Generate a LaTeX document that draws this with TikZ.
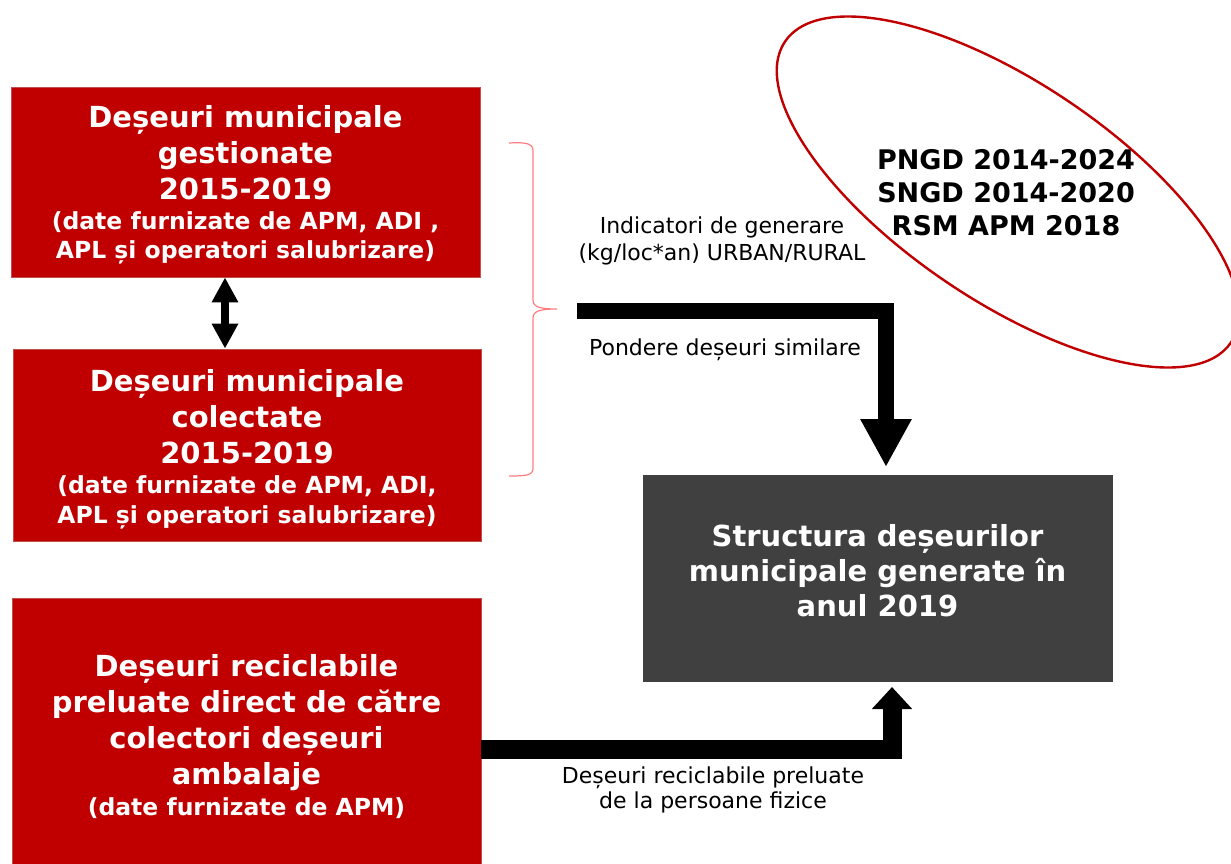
\documentclass[tikz,border=0pt]{standalone}
\usepackage{fontspec}
\setmainfont{DejaVu Sans}
\usetikzlibrary{arrows.meta,shapes.geometric}
\definecolor{boxred}{HTML}{C00000}
\definecolor{boxedge}{HTML}{C0504D}
\definecolor{boxdark}{HTML}{404040}
\definecolor{bracered}{HTML}{FF7C80}
\newcommand{\smtx}{\fontsize{23.5}{29}\selectfont}
\begin{document}
\begin{tikzpicture}[x=1pt,y=-1pt,
  redbox/.style={draw=boxedge, fill=boxred, line width=0.8pt, inner sep=0pt, text=white, font=\bfseries\fontsize{29}{36}\selectfont, align=center},
  darkbox/.style={draw=boxdark, fill=boxdark, inner sep=0pt},
  lbl/.style={inner sep=0pt, align=center},
  fat/.style={draw=black, line join=miter},
]
\useasboundingbox (0,0) rectangle (1231,863);

\node[redbox, minimum width=469pt, minimum height=190pt] (box1) at (245.5,182)
  {\rule{0pt}{27pt}Deșeuri municipale\\ gestionate\\ 2015-2019\\[-6pt] \smtx (date furnizate de APM, ADI ,\\[-7pt] \smtx APL și operatori salubrizare)};
\node[redbox, minimum width=468pt, minimum height=192pt] (box2) at (247,445)
  {\rule{0pt}{30pt}Deșeuri municipale\\ colectate\\ 2015-2019\\[-6pt] \smtx (date furnizate de APM, ADI,\\[-6pt] \smtx APL și operatori salubrizare)};
\node[redbox, minimum width=469pt, minimum height=277pt] (box3) at (246.5,736.5)
  {Deșeuri reciclabile\\ preluate direct de către\\ colectori deșeuri\\ ambalaje\\[-5pt] \smtx (date furnizate de APM)};
\node[darkbox, minimum width=469pt, minimum height=206pt] (dark) at (877.5,578) {};
\node[inner sep=0pt, text=white, align=center, font=\bfseries\fontsize{29}{35}\selectfont] (darktxt) at (877.5,571)
  {Structura deșeurilor\\ municipale generate în\\ anul 2019};

\node[draw=boxred, line width=2.4pt, ellipse, inner sep=0pt, minimum width=538pt, minimum height=218pt, rotate=-34] (ell) at (1008,192) {};
\node[inner sep=0pt, align=center, font=\bfseries\fontsize{27}{33}\selectfont] (src) at (1006,193)
  {PNGD 2014-2024\\ SNGD 2014-2020\\ RSM APM 2018};

% brace
\draw[bracered, line width=1.2pt] (509,143) .. controls (528,142) and (533,144) .. (533,151) -- (533,300)
  .. controls (533,307) and (540,309) .. (557,309)
  .. controls (540,309) and (533,311) .. (533,318) -- (533,468)
  .. controls (533,475) and (528,476) .. (509,476);

\node[lbl, font=\fontsize{22}{27}\selectfont] (ind) at (722,241) {Indicatori de generare\\(kg/loc*an) URBAN/RURAL};
\node[lbl, font=\fontsize{22}{27}\selectfont] (pond) at (725,350) {Pondere deșeuri similare};
\node[lbl, font=\fontsize{22}{25}\selectfont] (recl) at (713,790) {Deșeuri reciclabile preluate\\de la persoane fizice};

% connectors
\coordinate (a1s) at (577,311);
\coordinate (a1e) at (886,467);
\draw[fat, line width=16pt, -{Triangle[length=48pt,width=48pt]}] (a1s) -| (a1e);

\coordinate (a2s) at ([yshift=-12.5pt]box3.east);
\coordinate (a2e) at (892,687);
\draw[fat, line width=19pt, -{Triangle[length=22pt,width=39pt]}] (a2s) -| (a2e);

\draw[fat, line width=8pt, {Triangle[length=25pt,width=25pt]}-{Triangle[length=25pt,width=25pt]}]
  ([xshift=-20.5pt]box1.south) -- ([xshift=-20.5pt]box1.south |- box2.north);
\end{tikzpicture}
\end{document}
